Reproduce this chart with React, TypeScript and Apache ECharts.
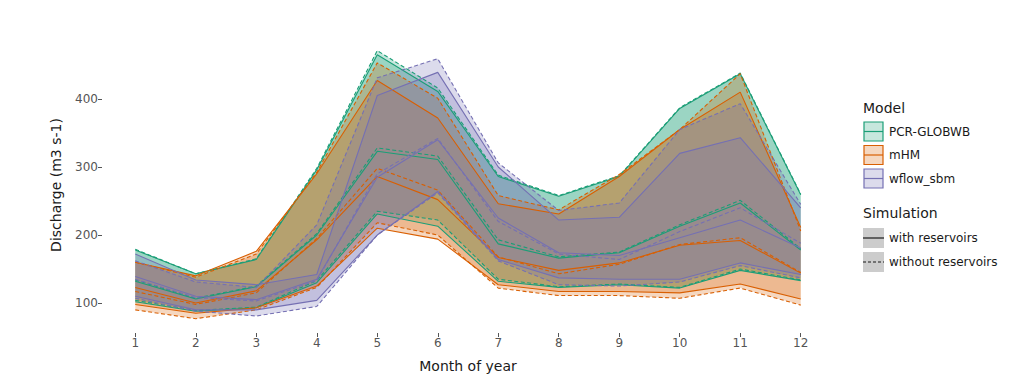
import React, { useEffect, useRef } from "react";
import * as echarts from "echarts";

const months = [1, 2, 3, 4, 5, 6, 7, 8, 9, 10, 11, 12];
const monthTicks = [1, 2, 3, 4, 5, 6, 7, 8, 9, 10, 11, 12];
const yTicks = [100, 200, 300, 400];

// PCR-GLOBWB
const pcrWithLow = [102, 88, 93, 130, 231, 213, 132, 123, 127, 122, 148, 133];
const pcrWithMid = [132, 106, 124, 200, 323, 311, 187, 166, 174, 213, 247, 178];
const pcrWithHigh = [178, 143, 164, 296, 465, 411, 286, 257, 286, 386, 437, 259];
const pcrWithoutLow = [104, 89, 94, 133, 235, 222, 135, 124, 128, 123, 150, 134];
const pcrWithoutMid = [134, 107, 125, 202, 328, 316, 193, 168, 175, 215, 251, 180];
const pcrWithoutHigh = [179, 143, 165, 298, 471, 416, 288, 258, 287, 387, 438, 260];

// mHM
const mhmWithLow = [98, 85, 93, 125, 210, 194, 127, 117, 117, 115, 128, 106];
const mhmWithMid = [123, 100, 118, 193, 286, 252, 167, 148, 159, 185, 192, 144];
const mhmWithHigh = [160, 140, 176, 290, 427, 372, 246, 231, 286, 355, 410, 211];
const mhmWithoutLow = [90, 77, 90, 123, 218, 200, 122, 111, 111, 107, 122, 97];
const mhmWithoutMid = [117, 98, 115, 195, 298, 266, 168, 143, 157, 186, 196, 145];
const mhmWithoutHigh = [160, 138, 172, 292, 453, 401, 258, 237, 289, 355, 437, 206];

// wflow_sbm
const wflowWithLow = [110, 90, 90, 104, 200, 264, 164, 137, 135, 135, 159, 142];
const wflowWithMid = [139, 110, 105, 135, 285, 340, 225, 174, 170, 196, 222, 181];
const wflowWithHigh = [172, 134, 127, 142, 405, 439, 300, 222, 226, 320, 343, 240];
const wflowWithoutLow = [107, 88, 81, 95, 200, 262, 162, 127, 125, 131, 155, 137];
const wflowWithoutMid = [135, 108, 103, 133, 290, 342, 220, 172, 164, 205, 240, 188];
const wflowWithoutHigh = [162, 131, 123, 215, 431, 459, 306, 236, 247, 355, 393, 245];

const modelNames = ["PCR-GLOBWB", "mHM", "wflow_sbm"];
const modelColors = ["#1b9e77", "#d95f02", "#7570b3"];
const simNames = ["with reservoirs", "without reservoirs"];

const FONT = "DejaVu Sans";

export default function App() {
  const ref = useRef<HTMLDivElement>(null);

  useEffect(() => {
    document.body.style.margin = "0";
    const chart = echarts.init(ref.current!, null, { renderer: "svg" });

    const modelData = [
      { with: [pcrWithLow, pcrWithMid, pcrWithHigh], without: [pcrWithoutLow, pcrWithoutMid, pcrWithoutHigh] },
      { with: [mhmWithLow, mhmWithMid, mhmWithHigh], without: [mhmWithoutLow, mhmWithoutMid, mhmWithoutHigh] },
      { with: [wflowWithLow, wflowWithMid, wflowWithHigh], without: [wflowWithoutLow, wflowWithoutMid, wflowWithoutHigh] },
    ];

    const bandSeries: any[] = [];
    const lineSeries: any[] = [];
    modelData.forEach((md, mi) => {
      const color = modelColors[mi];
      (["with", "without"] as const).forEach((sim) => {
        const [low, mid, high] = md[sim];
        const rows = months.map((m, i) => [m, low[i], high[i]]);
        bandSeries.push({
          type: "custom",
          data: rows,
          encode: { x: 0, y: [1, 2] },
          silent: true,
          z: 1,
          renderItem: (params: any, api: any) => {
            if (params.dataIndex !== 0) return null;
            const upper = rows.map((r) => api.coord([r[0], r[2]]));
            const lower = rows.map((r) => api.coord([r[0], r[1]])).reverse();
            return {
              type: "polygon",
              shape: { points: [...upper, ...lower] },
              style: { fill: color, opacity: 0.25 },
            };
          },
        });
        [low, mid, high].forEach((arr) => {
          lineSeries.push({
            type: "line",
            data: arr.map((v, i) => [months[i], v]),
            symbol: "none",
            lineStyle: { color, width: 1.1, type: sim === "with" ? "solid" : [4, 2.5] },
            silent: true,
            z: 2,
          });
        });
      });
    });

    const legendX = 863;
    const graphic: any[] = [
      {
        type: "text",
        x: 56,
        y: 185,
        rotation: Math.PI / 2,
        style: { text: "Discharge (m3 s-1)", font: `14px "${FONT}"`, fill: "#1a1a1a", align: "center", verticalAlign: "middle" },
      },
      {
        type: "text",
        x: 468,
        y: 366,
        style: { text: "Month of year", font: `14px "${FONT}"`, fill: "#1a1a1a", align: "center", verticalAlign: "middle" },
      },
      {
        type: "text",
        x: legendX,
        y: 108,
        style: { text: "Model", font: `14px "${FONT}"`, fill: "#1a1a1a", align: "left", verticalAlign: "middle" },
      },
      {
        type: "text",
        x: legendX,
        y: 213,
        style: { text: "Simulation", font: `14px "${FONT}"`, fill: "#1a1a1a", align: "left", verticalAlign: "middle" },
      },
    ];
    modelNames.forEach((name, i) => {
      const y0 = 121 + i * 23.5;
      graphic.push({
        type: "rect",
        shape: { x: legendX + 1, y: y0 + 1, width: 19, height: 19 },
        style: { fill: echarts.color.modifyAlpha(modelColors[i], 0.25), stroke: modelColors[i], lineWidth: 1.2 },
      });
      graphic.push({
        type: "line",
        shape: { x1: legendX + 1, y1: y0 + 10.5, x2: legendX + 20, y2: y0 + 10.5 },
        style: { stroke: modelColors[i], lineWidth: 1.2 },
      });
      graphic.push({
        type: "text",
        x: legendX + 26,
        y: y0 + 10.5,
        style: { text: name, font: `12px "${FONT}"`, fill: "#1a1a1a", align: "left", verticalAlign: "middle" },
      });
    });
    simNames.forEach((name, i) => {
      const y0 = 228 + i * 24;
      graphic.push({
        type: "rect",
        shape: { x: legendX, y: y0, width: 21, height: 20 },
        style: { fill: "#cccccc", stroke: "none" },
      });
      graphic.push({
        type: "line",
        shape: { x1: legendX, y1: y0 + 10, x2: legendX + 21, y2: y0 + 10 },
        style: { stroke: "#1a1a1a", lineWidth: 1.2, lineDash: i === 0 ? null : [3, 2] },
      });
      graphic.push({
        type: "text",
        x: legendX + 26,
        y: y0 + 10,
        style: { text: name, font: `12px "${FONT}"`, fill: "#1a1a1a", align: "left", verticalAlign: "middle" },
      });
    });

    chart.setOption({
      animation: false,
      backgroundColor: "#ffffff",
      textStyle: { fontFamily: FONT },
      grid: { left: 102, right: 190, top: 37, bottom: 55, containLabel: false },
      xAxis: {
        type: "value",
        min: 0.45,
        max: 12.55,
        splitLine: { show: false },
        axisLine: { show: false },
        axisTick: { show: true, length: 4, lineStyle: { color: "#555555", width: 1 }, customValues: monthTicks },
        axisLabel: { color: "#555555", fontSize: 12, margin: 4, customValues: monthTicks, fontFamily: FONT },
      },
      yAxis: {
        type: "value",
        min: 56,
        max: 491,
        splitLine: { show: false },
        axisLine: { show: false },
        axisTick: { show: true, length: 4, lineStyle: { color: "#555555", width: 1 }, customValues: yTicks },
        axisLabel: { color: "#555555", fontSize: 12, margin: 4, customValues: yTicks, fontFamily: FONT },
      },
      series: [...bandSeries, ...lineSeries],
      graphic,
    });

    return () => chart.dispose();
  }, []);

  return <div ref={ref} style={{ width: 1024, height: 388 }} />;
}
